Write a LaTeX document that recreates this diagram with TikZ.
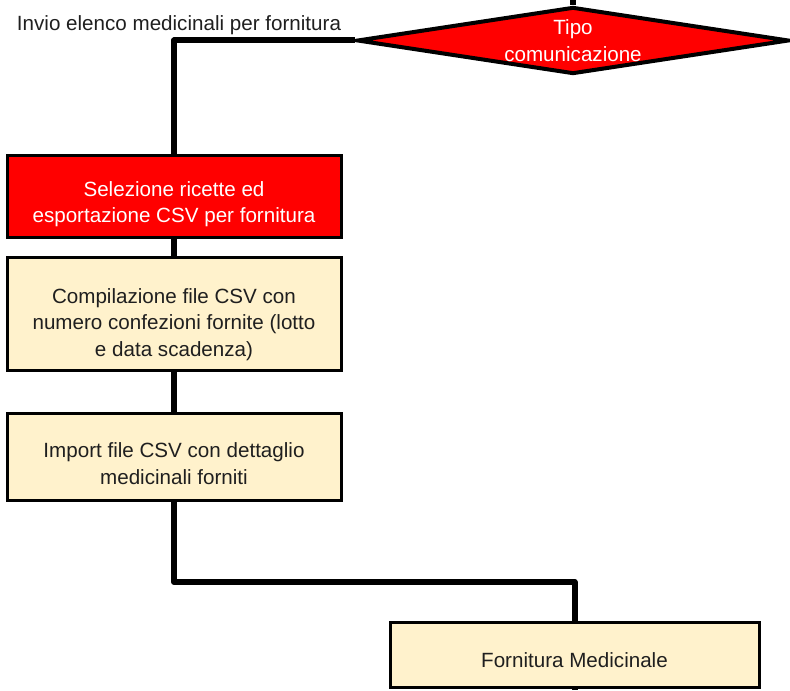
\documentclass[tikz,border=0pt]{standalone}
\usepackage{fontspec}
\setmainfont{Liberation Sans}
\usetikzlibrary{shapes.geometric}
\definecolor{rosso}{RGB}{255,0,0}
\definecolor{crema}{RGB}{255,242,204}

\begin{document}
\begin{tikzpicture}[x=0.5pt,y=-0.5pt,
  every node/.style = {align=center,
    font=\fontsize{10.3}{13.3}\selectfont}]
    \tikzstyle{passo}=[shape=rectangle, draw, line width=1.5pt,
      minimum width=167pt, fill=crema]
    \tikzstyle{attivo}=[passo, fill=rosso]
    \tikzstyle{scelta}=[shape=diamond, draw, line width=2pt, fill=rosso,
      minimum width=216pt, minimum height=33.5pt, inner sep=0pt]
    \tikzstyle{scuro}=[text=black!88]
    \tikzstyle{chiaro}=[text=white]
    \tikzstyle{flusso}=[line width=3pt, line join=round]
  \useasboundingbox (0,0) rectangle (790,690);
  \node[scelta] (tipo) at (573,40.5) {};
  \node[chiaro] (tipotesto) at (tipo) {Tipo\\comunicazione};
  \node[scuro] (invio) at (179,25) {Invio elenco medicinali per fornitura};
  \node[attivo, minimum height=41pt] (selezione) at (174,196) {};
  \node[chiaro, yshift=-4pt] (selezionetesto) at (selezione)
    {Selezione ricette ed\\esportazione CSV per fornitura};
  \node[passo, minimum height=56.5pt] (compilazione) at (174,313.5) {};
  \node[scuro, yshift=-5.5pt] (compilazionetesto) at (compilazione)
    {Compilazione file CSV con\\numero confezioni fornite (lotto\\e data scadenza)};
  \node[passo, minimum height=43.5pt] (import) at (174,456.5) {};
  \node[scuro, yshift=-3.5pt] (importtesto) at (import)
    {Import file CSV con dettaglio\\medicinali forniti};
  \node[passo, minimum width=184.5pt, minimum height=32.5pt] (fornitura) at (574.5,654.5) {};
  \node[scuro, yshift=-3pt] (fornituratesto) at (fornitura) {Fornitura Medicinale};
  \coordinate (ingresso) at (tipo.north |- 0,0);
  \coordinate (giro) at (fornitura.north |- 0,582);
  \coordinate (uscita) at (fornitura.south |- 0,690);
  \draw[flusso] (ingresso) -- (tipo.north);
  \draw[flusso] (tipo.west) -| (selezione.north);
  \draw[flusso] (selezione) -- (compilazione);
  \draw[flusso] (compilazione) -- (import);
  \draw[flusso] (import.south) |- (giro) -- (fornitura.north);
  \draw[flusso] (fornitura.south) -- (uscita);
\end{tikzpicture}
\end{document}
